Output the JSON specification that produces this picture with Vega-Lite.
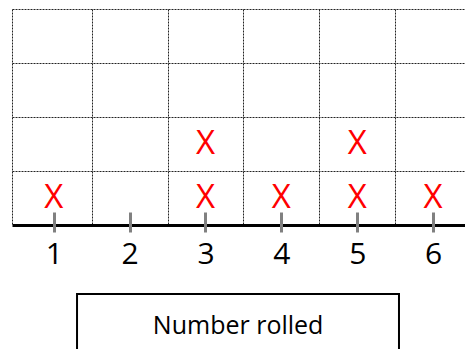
{
  "$schema": "https://vega.github.io/schema/vega-lite/v6.json",
  "width": 453,
  "height": 216,
  "autosize": {"type": "none"},
  "padding": {"left": 12, "top": 9, "right": 0, "bottom": 124},
  "background": "white",
  "config": {"view": {"stroke": null}},
  "datasets": {
    "rolls": [
      {"number": 1, "count": 1},
      {"number": 3, "count": 1},
      {"number": 3, "count": 2},
      {"number": 4, "count": 1},
      {"number": 5, "count": 1},
      {"number": 5, "count": 2},
      {"number": 6, "count": 1}
    ],
    "label": [
      {"text": "Number rolled", "x1": 1.307, "x2": 5.55, "xmid": 3.43, "ytop": -1.278, "ybottom": -2.6, "ytext": -2.02}
    ]
  },
  "layer": [
    {
      "data": {"name": "rolls"},
      "mark": {"type": "text", "text": "X", "color": "#ff0000", "font": "Open Sans", "fontSize": 33, "baseline": "alphabetic", "align": "center", "dy": 37},
      "encoding": {
        "x": {
          "field": "number", "type": "quantitative",
          "scale": {"domain": [0.45, 6.42], "nice": false, "zero": false},
          "axis": {
            "values": [0.45, 1, 1.5, 2, 2.5, 3, 3.5, 4, 4.5, 5, 5.5, 6],
            "title": null,
            "domain": false,
            "offset": -13,
            "grid": true,
            "gridColor": "#222222",
            "gridDash": [2, 1],
            "gridWidth": 1,
            "gridOpacity": {"condition": {"test": "datum.value % 1 === 0", "value": 0}, "value": 1},
            "ticks": true,
            "tickSize": 20,
            "tickWidth": 3,
            "tickColor": "#808080",
            "tickOpacity": {"condition": {"test": "datum.value % 1 === 0", "value": 1}, "value": 0},
            "labelExpr": "datum.value % 1 === 0 ? format(datum.value, 'd') : ''",
            "labelFont": "Open Sans",
            "labelFontSize": 30,
            "labelColor": "black",
            "labelPadding": 7,
            "labelFlush": false,
            "labelOverlap": false,
            "labelBound": false
          }
        },
        "y": {
          "field": "count", "type": "quantitative",
          "scale": {"domain": [0, 4], "nice": false, "zero": false},
          "axis": {
            "values": [0, 1, 2, 3, 4],
            "title": null,
            "domain": false,
            "ticks": false,
            "labels": false,
            "grid": true,
            "gridColor": {"condition": {"test": "datum.value === 0", "value": "black"}, "value": "#222222"},
            "gridDash": {"condition": {"test": "datum.value === 0", "value": []}, "value": [2, 1]},
            "gridWidth": {"condition": {"test": "datum.value === 0", "value": 3}, "value": 1}
          }
        }
      }
    },
    {
      "data": {"name": "label"},
      "mark": {"type": "rect", "fill": null, "stroke": "black", "strokeWidth": 2, "clip": false},
      "encoding": {
        "x": {"field": "x1", "type": "quantitative", "scale": {"domain": [0.45, 6.42], "nice": false, "zero": false}},
        "x2": {"field": "x2"},
        "y": {"field": "ytop", "type": "quantitative", "scale": {"domain": [0, 4], "nice": false, "zero": false}},
        "y2": {"field": "ybottom"}
      }
    },
    {
      "data": {"name": "label"},
      "mark": {"type": "text", "font": "Open Sans", "fontSize": 25, "baseline": "alphabetic", "align": "center", "color": "black", "clip": false},
      "encoding": {
        "x": {"field": "xmid", "type": "quantitative", "scale": {"domain": [0.45, 6.42], "nice": false, "zero": false}},
        "y": {"field": "ytext", "type": "quantitative", "scale": {"domain": [0, 4], "nice": false, "zero": false}},
        "text": {"field": "text"}
      }
    }
  ]
}
